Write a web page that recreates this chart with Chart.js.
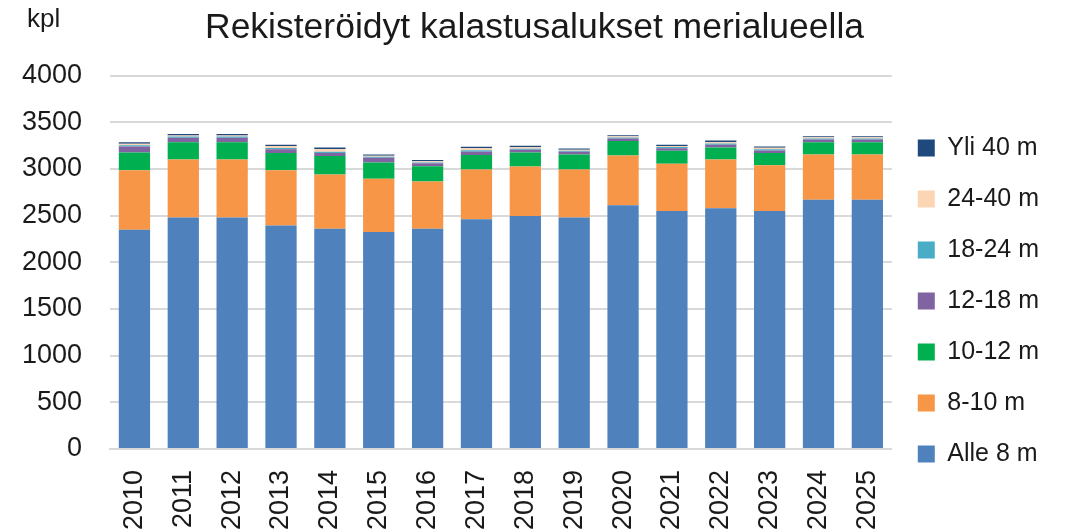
<!DOCTYPE html>
<html lang="fi">
<head>
<meta charset="utf-8">
<title>Rekisteröidyt kalastusalukset merialueella</title>
<script src="https://cdn.jsdelivr.net/npm/chart.js@4.4.1/dist/chart.umd.min.js"></script>
<style>
  html, body { margin: 0; padding: 0; background: #fff; }
  #wrap { position: relative; width: 1069px; height: 532px; }
</style>
</head>
<body>
<div id="wrap"><canvas id="chart"></canvas></div>
<script>
// Vuodet
const years = ['2010','2011','2012','2013','2014','2015','2016','2017',
               '2018','2019','2020','2021','2022','2023','2024','2025'];

// Alusten määrät pituusluokittain (kpl), luettu kuvasta
const alle8  = [2350, 2480, 2480, 2395, 2360, 2325, 2360, 2460, 2495, 2480, 2610, 2550, 2580, 2550, 2670, 2670];
const m8_10  = [635, 620, 620, 590, 580, 570, 505, 535, 530, 515, 535, 505, 520, 490, 485, 485];
const m10_12 = [190, 185, 185, 185, 200, 175, 165, 155, 150, 160, 155, 140, 130, 130, 130, 130];
const m12_18 = [65, 50, 50, 40, 30, 50, 30, 35, 30, 30, 25, 28, 28, 28, 30, 30];
const m18_24 = [15, 12, 12, 15, 15, 10, 10, 15, 12, 10, 12, 12, 15, 12, 12, 12];
const m24_40 = [15, 12, 12, 20, 30, 12, 12, 22, 16, 12, 12, 12, 17, 16, 12, 12];
const yli40  = [17, 15, 15, 15, 16, 13, 14, 17, 15, 13, 12, 12, 15, 15, 12, 12];

const yTicks = [0, 500, 1000, 1500, 2000, 2500, 3000, 3500, 4000];

const FONT = '"Liberation Sans", Arial, sans-serif';
const TEXT = '#1a1a1a';

// "kpl" -teksti vasempaan yläkulmaan
const unitLabel = {
    id: 'unitLabel',
    afterDraw(chart) {
        const c = chart.ctx;
        c.save();
        c.font = '26px ' + FONT;
        c.fillStyle = TEXT;
        c.textAlign = 'left';
        c.textBaseline = 'middle';
        c.fillText('kpl', 27, 20);
        c.restore();
    }
};

const series = [
    { label: 'Alle 8 m', data: alle8,  color: '#4F81BD' },
    { label: '8-10 m',   data: m8_10,  color: '#F79646' },
    { label: '10-12 m',  data: m10_12, color: '#00B050' },
    { label: '12-18 m',  data: m12_18, color: '#8064A2' },
    { label: '18-24 m',  data: m18_24, color: '#4BACC6' },
    { label: '24-40 m',  data: m24_40, color: '#FCD5B5' },
    { label: 'Yli 40 m', data: yli40,  color: '#1F497D' }
];

new Chart(document.getElementById('chart'), {
    type: 'bar',
    data: {
        labels: years,
        datasets: series.map(s => ({
            label: s.label,
            data: s.data,
            backgroundColor: s.color,
            borderWidth: 0,
            barPercentage: 0.64,
            categoryPercentage: 1.0
        }))
    },
    options: {
        responsive: true,
        maintainAspectRatio: false,
        animation: false,
        layout: { padding: { left: 20, right: 20, top: 0, bottom: 0 } },
        plugins: {
            title: {
                display: true,
                text: 'Rekisteröidyt kalastusalukset merialueella',
                color: TEXT,
                font: { family: FONT, size: 35.5, weight: 'normal' },
                padding: { top: 7, bottom: 26 }
            },
            legend: {
                position: 'right',
                reverse: true,
                // tyhjä otsikko työntää selitteen alemmas kuten alkuperäisessä
                title: {
                    display: true,
                    text: ' ',
                    font: { size: 10 },
                    padding: { top: 0, bottom: 58 }
                },
                labels: {
                    color: TEXT,
                    font: { family: FONT, size: 25 },
                    boxWidth: 17,
                    boxHeight: 17,
                    padding: 26
                }
            },
            tooltip: { enabled: false }
        },
        scales: {
            x: {
                stacked: true,
                grid: { display: false, drawTicks: false },
                border: { color: '#d9d9d9', width: 2 },
                ticks: {
                    color: TEXT,
                    font: { family: FONT, size: 27 },
                    maxRotation: 90,
                    minRotation: 90,
                    padding: 21
                },
                afterFit: scale => { scale.height = 83; }
            },
            y: {
                stacked: true,
                min: 0,
                max: 4000,
                afterBuildTicks: axis => { axis.ticks = yTicks.map(v => ({ value: v })); },
                afterFit: scale => { scale.width = 90; },
                grid: { color: '#d9d9d9', lineWidth: 2, drawTicks: false },
                border: { display: false },
                ticks: {
                    color: TEXT,
                    font: { family: FONT, size: 27 },
                    padding: 28,
                    callback: v => String(v)
                }
            }
        }
    },
    plugins: [unitLabel]
});
</script>
</body>
</html>
